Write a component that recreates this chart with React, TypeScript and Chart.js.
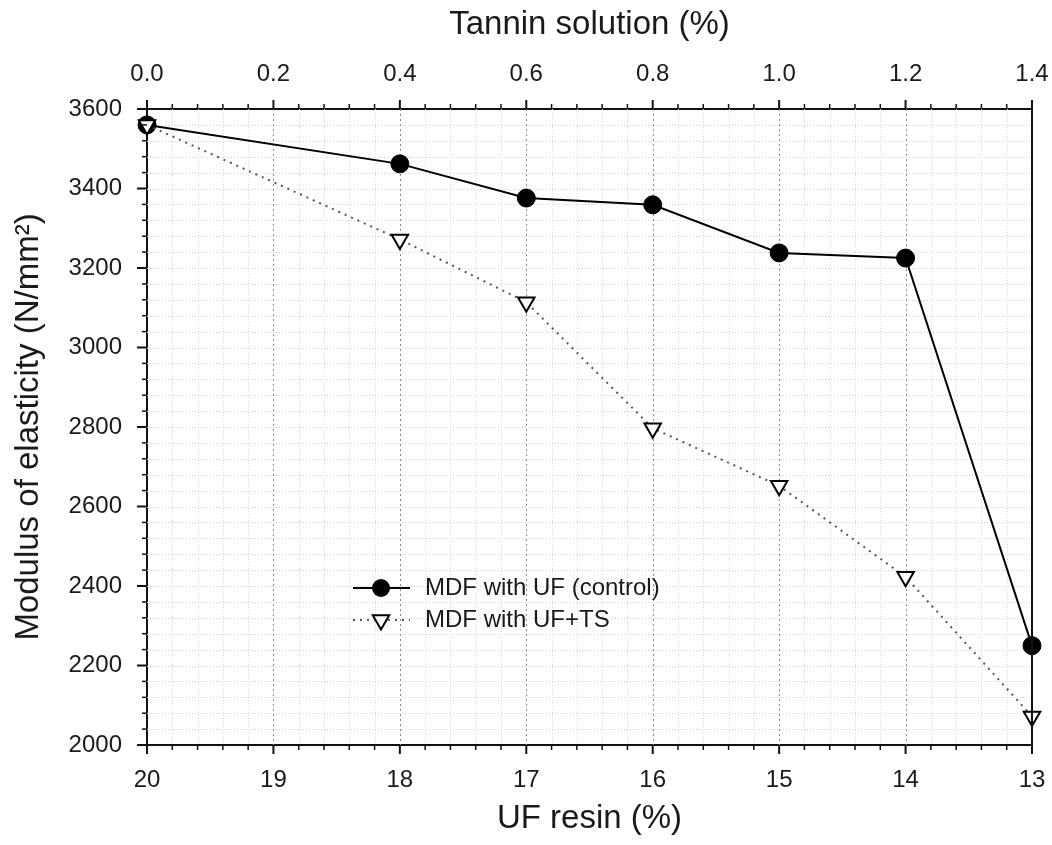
import React, { useEffect, useRef } from "react";
import { Chart, registerables } from "chart.js";

Chart.register(...registerables);

// ---- data ----
const UF_RESIN = [20, 18, 17, 16, 15, 14, 13];
const TANNIN_TICKS = [0.0, 0.2, 0.4, 0.6, 0.8, 1.0, 1.2, 1.4];
const MOE_CONTROL = [3560, 3462, 3376, 3359, 3238, 3225, 2250];
const MOE_UF_TS = [3560, 3272, 3114, 2797, 2652, 2423, 2072];
const SERIES_LABELS = ["MDF with UF (control)", "MDF with UF+TS"];
const X_TITLE = "UF resin (%)";
const X2_TITLE = "Tannin solution (%)";
const Y_TITLE = "Modulus of elasticity (N/mm\u00B2)";

const X_MIN = 13;
const X_MAX = 20;
const X2_MIN = 0;
const X2_MAX = 1.4;
const Y_MIN = 2000;
const Y_MAX = 3600;
const Y_STEP = 200;
const MINOR_DIV = 5;

const FONT = '"Liberation Sans", Arial, Helvetica, sans-serif';
const TEXT = "#1a1a1a";
const TICK_SIZE = 24;
const TITLE_SIZE = 33;

function drawTriangleDown(ctx: CanvasRenderingContext2D, cx: number, cy: number, r: number) {
  const s = Math.sin(Math.PI / 3) * r;
  ctx.beginPath();
  ctx.moveTo(cx, cy + r);
  ctx.lineTo(cx - s, cy - r / 2);
  ctx.lineTo(cx + s, cy - r / 2);
  ctx.closePath();
}

const customPlugin = {
  id: "customGridTicksLegend",
  beforeDatasetsDraw(chart: any) {
    const { ctx, chartArea: a, scales } = chart;
    const xs = scales.x;
    const ys = scales.y;
    ctx.save();
    ctx.lineWidth = 1;
    // horizontal minor grid
    ctx.strokeStyle = "#d0d0d0";
    ctx.setLineDash([1, 2]);
    const yCount = ((Y_MAX - Y_MIN) / Y_STEP) * MINOR_DIV;
    for (let i = 1; i < yCount; i++) {
      const v = Y_MIN + (i * Y_STEP) / MINOR_DIV;
      const py = Math.round(ys.getPixelForValue(v)) + 0.5;
      ctx.beginPath();
      ctx.moveTo(a.left, py);
      ctx.lineTo(a.right, py);
      ctx.stroke();
    }
    // vertical minor grid
    const xCount = (X_MAX - X_MIN) * MINOR_DIV;
    ctx.strokeStyle = "#dadada";
    for (let i = 1; i < xCount; i++) {
      if (i % MINOR_DIV === 0) continue;
      const v = X_MIN + i / MINOR_DIV;
      const px = Math.round(xs.getPixelForValue(v)) + 0.5;
      ctx.beginPath();
      ctx.moveTo(px, a.top);
      ctx.lineTo(px, a.bottom);
      ctx.stroke();
    }
    // vertical major grid
    ctx.strokeStyle = "#8a8a8a";
    ctx.setLineDash([2, 3]);
    for (let v = X_MIN + 1; v < X_MAX; v++) {
      const px = Math.round(xs.getPixelForValue(v)) + 0.5;
      ctx.beginPath();
      ctx.moveTo(px, a.top);
      ctx.lineTo(px, a.bottom);
      ctx.stroke();
    }
    ctx.restore();
  },
  afterDraw(chart: any) {
    const { ctx, chartArea: a, scales } = chart;
    const xs = scales.x;
    const x2 = scales.x2;
    const ys = scales.y;
    ctx.save();
    ctx.setLineDash([]);
    ctx.strokeStyle = "#111";
    // right frame line
    ctx.lineWidth = 2;
    ctx.beginPath();
    ctx.moveTo(a.right, a.top);
    ctx.lineTo(a.right, a.bottom);
    ctx.stroke();

    const MAJ = 9;
    const MIN = 5;
    // bottom ticks
    const xCount = (X_MAX - X_MIN) * MINOR_DIV;
    for (let i = 0; i <= xCount; i++) {
      const major = i % MINOR_DIV === 0;
      const px = xs.getPixelForValue(X_MIN + i / MINOR_DIV);
      ctx.lineWidth = major ? 2 : 1.5;
      ctx.beginPath();
      ctx.moveTo(px, a.bottom);
      ctx.lineTo(px, a.bottom + (major ? MAJ : MIN));
      ctx.stroke();
    }
    // top ticks
    const step2 = (TANNIN_TICKS[1] - TANNIN_TICKS[0]) / MINOR_DIV;
    const x2Count = Math.round((X2_MAX - X2_MIN) / step2);
    for (let i = 0; i <= x2Count; i++) {
      const major = i % MINOR_DIV === 0;
      const px = x2.getPixelForValue(X2_MIN + i * step2);
      ctx.lineWidth = major ? 2 : 1.5;
      ctx.beginPath();
      ctx.moveTo(px, a.top);
      ctx.lineTo(px, a.top - (major ? MAJ : MIN));
      ctx.stroke();
    }
    // left ticks
    const yCount = ((Y_MAX - Y_MIN) / Y_STEP) * MINOR_DIV;
    for (let i = 0; i <= yCount; i++) {
      const major = i % MINOR_DIV === 0;
      const py = ys.getPixelForValue(Y_MIN + (i * Y_STEP) / MINOR_DIV);
      ctx.lineWidth = major ? 2 : 1.5;
      ctx.beginPath();
      ctx.moveTo(a.left, py);
      ctx.lineTo(a.left - (major ? MAJ + 1 : MIN), py);
      ctx.stroke();
    }

    // legend
    const ds = chart.data.datasets;
    const lx0 = 353;
    const lx1 = 410;
    const mx = 381;
    const tx = 425;
    const rows = [588, 620];
    ctx.font = `24px ${FONT}`;
    ctx.textBaseline = "middle";
    ctx.textAlign = "left";
    rows.forEach((ry, i) => {
      const d = ds[i];
      ctx.save();
      ctx.strokeStyle = d.borderColor;
      ctx.lineWidth = d.borderWidth;
      ctx.setLineDash(d.borderDash || []);
      ctx.beginPath();
      ctx.moveTo(lx0, ry);
      ctx.lineTo(lx1, ry);
      ctx.stroke();
      ctx.restore();
      ctx.save();
      ctx.setLineDash([]);
      if (d.pointStyle === "circle") {
        ctx.fillStyle = d.pointBackgroundColor;
        ctx.beginPath();
        ctx.arc(mx, ry, d.pointRadius, 0, Math.PI * 2);
        ctx.fill();
      } else {
        drawTriangleDown(ctx, mx, ry, d.pointRadius);
        ctx.fillStyle = d.pointBackgroundColor;
        ctx.fill();
        ctx.lineWidth = d.pointBorderWidth;
        ctx.strokeStyle = d.pointBorderColor;
        ctx.stroke();
      }
      ctx.restore();
      ctx.fillStyle = TEXT;
      ctx.fillText(SERIES_LABELS[i], tx, ry);
    });
    ctx.restore();
  },
};

export default function App() {
  const ref = useRef<HTMLCanvasElement>(null);
  useEffect(() => {
    if (!ref.current) return;
    const chart = new Chart(ref.current, {
      type: "line",
      data: {
        datasets: [
          {
            label: SERIES_LABELS[0],
            data: UF_RESIN.map((x, i) => ({ x, y: MOE_CONTROL[i] })),
            borderColor: "#000",
            borderWidth: 2,
            pointStyle: "circle",
            pointRadius: 9,
            pointBackgroundColor: "#000",
            pointBorderColor: "#000",
            pointBorderWidth: 1,
            tension: 0,
            order: 1,
            clip: false,
          } as any,
          {
            label: SERIES_LABELS[1],
            data: UF_RESIN.map((x, i) => ({ x, y: MOE_UF_TS[i] })),
            borderColor: "#555",
            borderWidth: 2,
            borderDash: [2, 5],
            pointStyle: "triangle",
            pointRotation: 180,
            pointRadius: 9.5,
            pointBackgroundColor: "#fff",
            pointBorderColor: "#000",
            pointBorderWidth: 2,
            tension: 0,
            order: 0,
            clip: false,
          } as any,
        ],
      },
      options: {
        responsive: false,
        animation: false,
        events: [],
        layout: { padding: { left: 0, right: 20, top: 0, bottom: 0 } },
        plugins: { legend: { display: false }, tooltip: { enabled: false } },
        scales: {
          x: {
            type: "linear",
            position: "bottom",
            min: X_MIN,
            max: X_MAX,
            reverse: true,
            afterFit: (s: any) => {
              s.height = 100;
              s.paddingLeft = 0;
              s.paddingRight = 0;
            },
            border: { display: true, color: "#111", width: 2 },
            grid: { display: true, drawOnChartArea: false, drawTicks: false },
            ticks: {
              stepSize: 1,
              autoSkip: false,
              maxRotation: 0,
              padding: 21,
              color: TEXT,
              font: { family: FONT, size: TICK_SIZE },
              callback: (v: any) => String(v),
            },
            title: {
              display: true,
              text: X_TITLE,
              color: TEXT,
              font: { family: FONT, size: TITLE_SIZE },
              padding: { top: 0, bottom: 6 },
            },
          },
          x2: {
            type: "linear",
            position: "top",
            min: X2_MIN,
            max: X2_MAX,
            afterFit: (s: any) => {
              s.height = 109;
              s.paddingLeft = 0;
              s.paddingRight = 0;
            },
            afterBuildTicks: (s: any) => {
              s.ticks = TANNIN_TICKS.map((v) => ({ value: v }));
            },
            border: { display: true, color: "#111", width: 2 },
            grid: { display: true, drawOnChartArea: false, drawTicks: false },
            ticks: {
              autoSkip: false,
              maxRotation: 0,
              padding: 20,
              color: TEXT,
              font: { family: FONT, size: TICK_SIZE },
              callback: (v: any) => Number(v).toFixed(1),
            },
            title: {
              display: true,
              text: X2_TITLE,
              color: TEXT,
              font: { family: FONT, size: TITLE_SIZE },
              padding: { top: 5, bottom: 0 },
            },
          },
          y: {
            type: "linear",
            position: "left",
            min: Y_MIN,
            max: Y_MAX,
            afterFit: (s: any) => {
              s.width = 147;
              s.paddingTop = 0;
              s.paddingBottom = 0;
            },
            border: { display: true, color: "#111", width: 2 },
            grid: { display: true, drawOnChartArea: false, drawTicks: false },
            ticks: {
              stepSize: Y_STEP,
              autoSkip: false,
              padding: 25,
              color: TEXT,
              font: { family: FONT, size: TICK_SIZE },
              callback: (v: any) => String(v),
            },
            title: {
              display: true,
              text: Y_TITLE,
              color: TEXT,
              font: { family: FONT, size: TITLE_SIZE },
              padding: { top: 9, bottom: 0 },
            },
          },
        },
      } as any,
      plugins: [customPlugin],
    });
    return () => chart.destroy();
  }, []);
  return (
    <div style={{ position: "absolute", left: 0, top: 0, width: 1052, height: 845, background: "#fff" }}>
      <canvas ref={ref} width={1052} height={845} style={{ display: "block", width: 1052, height: 845 }} />
    </div>
  );
}
